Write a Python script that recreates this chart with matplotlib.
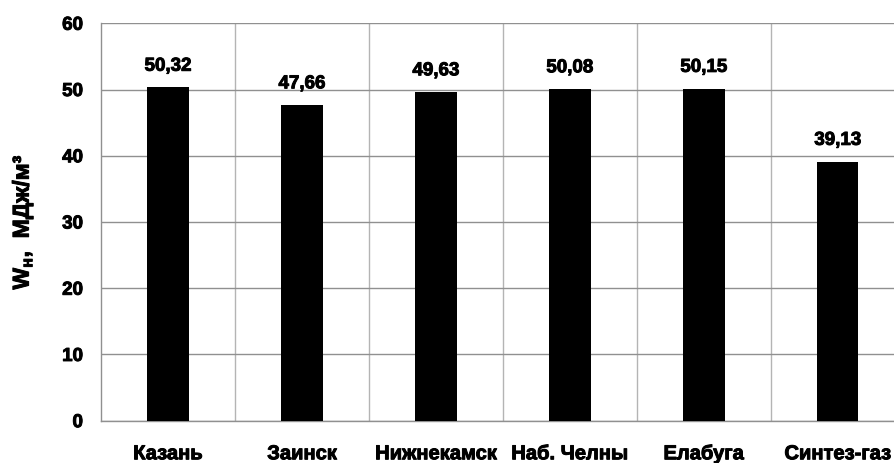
import numpy as np
import matplotlib
matplotlib.use("Agg")
import matplotlib.pyplot as plt
import matplotlib.patheffects as pe

# Wobbe index by city
cities = ["Казань", "Заинск", "Нижнекамск", "Наб. Челны", "Елабуга", "Синтез-газ"]
values = [50.32, 47.66, 49.63, 50.08, 50.15, 39.13]
value_labels = ["50,32", "47,66", "49,63", "50,08", "50,15", "39,13"]
yticks = [0, 10, 20, 30, 40, 50, 60]

plt.rcParams['font.family'] = ['Liberation Sans', 'DejaVu Sans']
plt.rcParams['mathtext.fontset'] = 'custom'
plt.rcParams['mathtext.rm'] = 'Liberation Sans:bold'
plt.rcParams['mathtext.bf'] = 'Liberation Sans:bold'
plt.rcParams['mathtext.it'] = 'Liberation Sans:bold'

# slightly heavier lettering
heavy = [pe.withStroke(linewidth=0.7, foreground='black')]

fig = plt.figure(figsize=(8.95, 4.63), dpi=100)
ax = fig.add_axes([0.1128, 0.0914, 0.898, 0.8583])

x = np.arange(len(cities))
ax.bar(x, values, width=0.31, color='black', zorder=3)

for xi, v, lab in zip(x, values, value_labels):
    ax.annotate(lab, (xi, v), xytext=(0, 12), textcoords='offset points',
                ha='center', va='baseline', fontsize=13.5, fontweight='bold',
                path_effects=heavy)

ax.set_xlim(-0.5, len(cities) - 0.5)
ax.set_ylim(0, 60)
ax.set_yticks(yticks)
ax.set_yticklabels([str(t) for t in yticks], fontsize=13.5, fontweight='bold')
ax.set_xticks(x)
ax.set_xticklabels(cities, fontsize=14.5, fontweight='bold')
for t in ax.get_xticklabels() + ax.get_yticklabels():
    t.set_path_effects(heavy)
ax.tick_params(axis='both', length=0)
ax.tick_params(axis='x', pad=17)
ax.tick_params(axis='y', pad=13)

# grid: horizontal at ticks, vertical at category boundaries
ax.yaxis.grid(True, color='#909090', linewidth=1, zorder=0)
for b in np.arange(0.5, len(cities) - 0.5, 1):
    ax.axvline(b, color='#b4b4b4', linewidth=1, zorder=0)

for side in ['top', 'right']:
    ax.spines[side].set_visible(False)
for side in ['left', 'bottom']:
    ax.spines[side].set_color('#909090')
    ax.spines[side].set_linewidth(1)

ylab = ax.set_ylabel(r'$\mathbf{W_{н}}$,  МДж/м³', fontsize=16.5, fontweight='bold', labelpad=19)
ylab.set_path_effects(heavy)

fig.savefig("out.png", dpi=100)
